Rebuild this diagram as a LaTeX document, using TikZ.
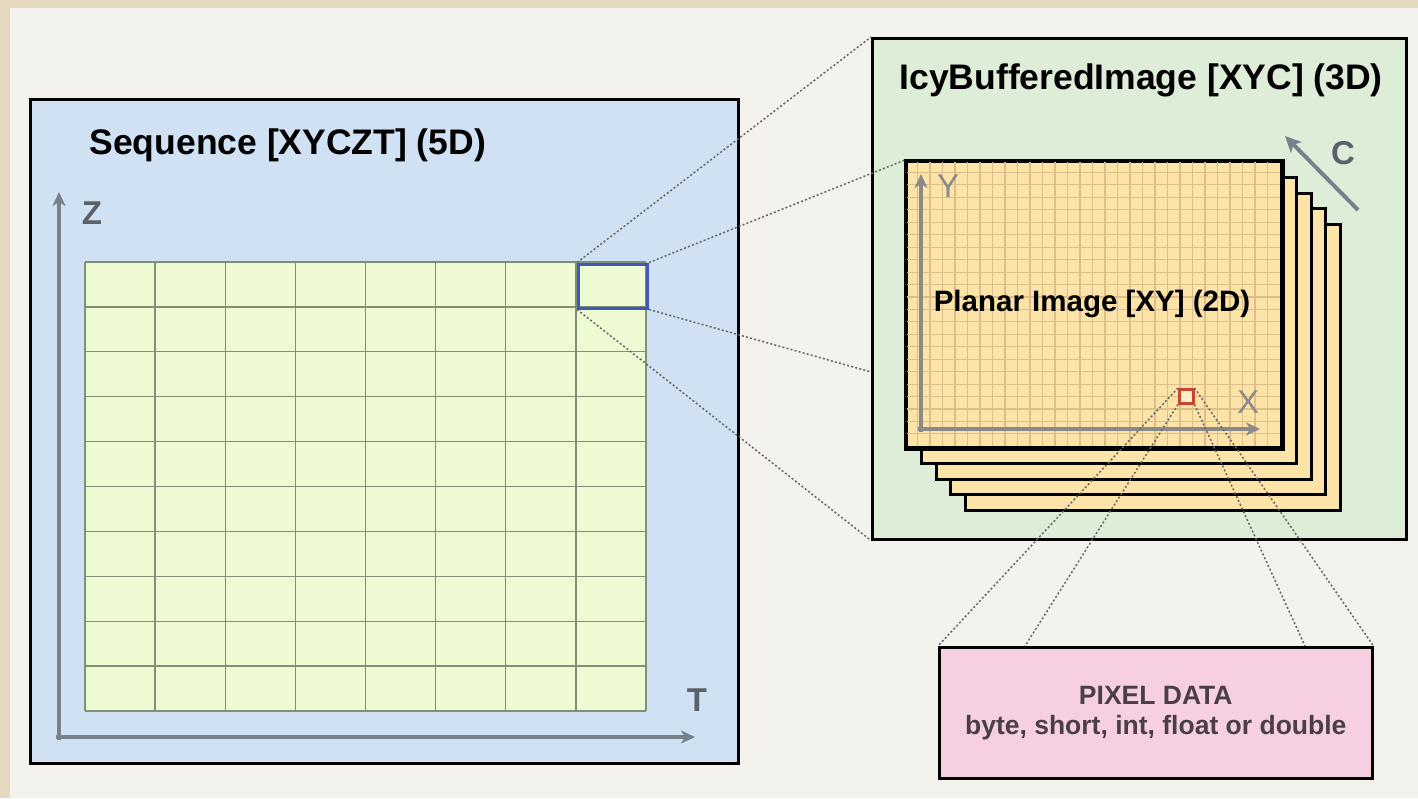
\documentclass[tikz,border=0pt]{standalone}
\usepackage{fontspec}
\setmainfont{Liberation Sans}
\usetikzlibrary{arrows.meta}

\definecolor{paper}{HTML}{F4F2EC}
\definecolor{tanband}{HTML}{E6D7BF}
\definecolor{seqblue}{HTML}{CFE1F3}
\definecolor{cellfill}{HTML}{EEFAD2}
\definecolor{cellline}{HTML}{7F8F78}
\definecolor{axisgray}{HTML}{76818C}
\definecolor{icygreen}{HTML}{DDEDD7}
\definecolor{planefill}{HTML}{FCE3A8}
\definecolor{planegrid}{HTML}{DDBE88}
\definecolor{xygray}{HTML}{8A8A8A}
\definecolor{hilite}{HTML}{4058B8}
\definecolor{pxred}{HTML}{C8472C}
\definecolor{datapink}{HTML}{F6D0E0}
\definecolor{datatext}{HTML}{4A3F47}
\definecolor{labelgray}{HTML}{5C6168}
\definecolor{dotgray}{HTML}{666666}

\tikzset{
  panel/.style={draw=black, line width=2.5pt, anchor=north west, inner sep=0pt},
  layerbox/.style={draw=black, line width=3pt, fill=planefill, anchor=north west,
    inner sep=0pt, minimum width=375pt, minimum height=286pt},
  axisline/.style={draw=axisgray, line width=3.2pt, -{Stealth[length=14pt,width=13pt,inset=4pt]}},
  xyaxis/.style={draw=xygray, line width=3.2pt, -{Stealth[length=14pt,width=13pt,inset=4pt]}},
  conn/.style={draw=dotgray, line width=1.5pt, dash pattern=on 2pt off 2.2pt},
  title/.style={anchor=west, font=\bfseries\fontsize{35.5}{40}\selectfont},
  axlabel/.style={text=labelgray, font=\bfseries\fontsize{33}{36}\selectfont},
  xylabel/.style={text=xygray, font=\fontsize{33}{36}\selectfont},
}

\begin{document}
\begin{tikzpicture}[x=1pt, y=-1pt]
  % page background with the tan edge bands
  \fill[paper] (0,0) rectangle (1418,798);
  \fill[tanband] (0,0) rectangle (1418,8);
  \fill[tanband] (0,0) rectangle (10,798);
  \useasboundingbox (0,0) rectangle (1418,798);

  % ---------- Sequence panel ----------
  \node[panel, fill=seqblue, minimum width=708pt, minimum height=664pt] (seq) at (29,98) {};
  \node[title] (seqtitle) at (86,145) {Sequence [XYCZT] (5D)};

  % 8 x 10 grid of planes
  \fill[cellfill] (85,262) rectangle (646,711);
  \foreach \i in {0,...,8}
    \draw[cellline, line width=1.3pt] ({85+70.125*\i},262) -- ({85+70.125*\i},711);
  \foreach \j in {0,...,10}
    \draw[cellline, line width=1.3pt] (85,{262+44.9*\j}) -- (646,{262+44.9*\j});

  % Z and T axes
  \coordinate (zbase) at (59,740);
  \coordinate (ztip) at (59,192);
  \coordinate (tbase) at (56,737);
  \coordinate (ttip) at (695,737);
  \draw[axisline] (zbase) -- (ztip);
  \draw[axisline] (tbase) -- (ttip);
  \node[axlabel] (zlab) at (92,213) {Z};
  \node[axlabel] (tlab) at (697,700) {T};

  % highlighted plane
  \node[draw=hilite, line width=3pt, anchor=north west, inner sep=0pt,
        minimum width=69pt, minimum height=44pt] (cell) at (577,262.5) {};

  % ---------- IcyBufferedImage panel ----------
  \node[panel, fill=icygreen, minimum width=534pt, minimum height=501pt] (icy) at (871,37) {};
  \node[title] (icytitle) at (896,80) {IcyBufferedImage [XYC] (3D)};

  % stacked channel planes, back to front
  \foreach \k in {4,3,2,1}
    \node[layerbox] (layer\k) at ({905+14.8*\k},{160+15.8*\k}) {};
  \node[layerbox] (plane) at (905,160) {};
  \begin{scope}
    \clip (905,160) rectangle (1280,446);
    \foreach \i in {1,...,29}
      \draw[planegrid, line width=1.1pt] ({905+12.5*\i},160) -- ({905+12.5*\i},446);
    \foreach \j in {1,...,22}
      \draw[planegrid, line width=1.1pt] (905,{160+12.45*\j}) -- (1280,{160+12.45*\j});
  \end{scope}
  \draw[black, line width=3pt] (plane.north west) rectangle (plane.south east);

  % X and Y axes of the plane
  \coordinate (ybase) at (921,432);
  \coordinate (ytip) at (921,174);
  \coordinate (xbase) at (918,429);
  \coordinate (xtip) at (1260,429);
  \draw[xyaxis] (ybase) -- (ytip);
  \draw[xyaxis] (xbase) -- (xtip);
  \node[xylabel] (ylab) at (948,186) {Y};
  \node[xylabel] (xlab) at (1248,402) {X};

  \node[font=\bfseries\fontsize{29.5}{34}\selectfont] (planetitle) at (1092,304) {Planar Image [XY] (2D)};

  % channel direction
  \coordinate (cbase) at (1358,210);
  \coordinate (ctip) at (1285,136);
  \draw[draw=axisgray, line width=4pt, -{Stealth[length=16pt,width=15pt,inset=4pt]}] (cbase) -- (ctip);
  \node[axlabel] (clab) at (1343,153) {C};

  % single pixel
  \node[draw=pxred, fill=planefill!60!white, line width=2.5pt, anchor=north west, inner sep=0pt,
        minimum width=14pt, minimum height=14pt] (px) at (1178,388) {};

  % ---------- Pixel data ----------
  \node[panel, fill=datapink, minimum width=433pt, minimum height=131pt] (data) at (938,646) {};
  \node[text=datatext, align=center, font=\bfseries\fontsize{26.5}{30}\selectfont]
    (datatext) at (data.center) {PIXEL DATA\\byte, short, int, float or double};

  % ---------- zoom connectors ----------
  \coordinate (icymid) at (871,372);
  \coordinate (datainL) at (1025,646);
  \coordinate (datainR) at (1305,646);
  \draw[conn] (cell.north west) -- (icy.north west);
  \draw[conn] (cell.north east) -- (plane.north west);
  \draw[conn] (cell.south east) -- (icymid);
  \draw[conn] (cell.south west) -- (icy.south west);
  \draw[conn] (px.north west) -- (data.north west);
  \draw[conn] (px.south west) -- (datainL);
  \draw[conn] (px.south east) -- (datainR);
  \draw[conn] (px.north east) -- (data.north east);
\end{tikzpicture}
\end{document}
